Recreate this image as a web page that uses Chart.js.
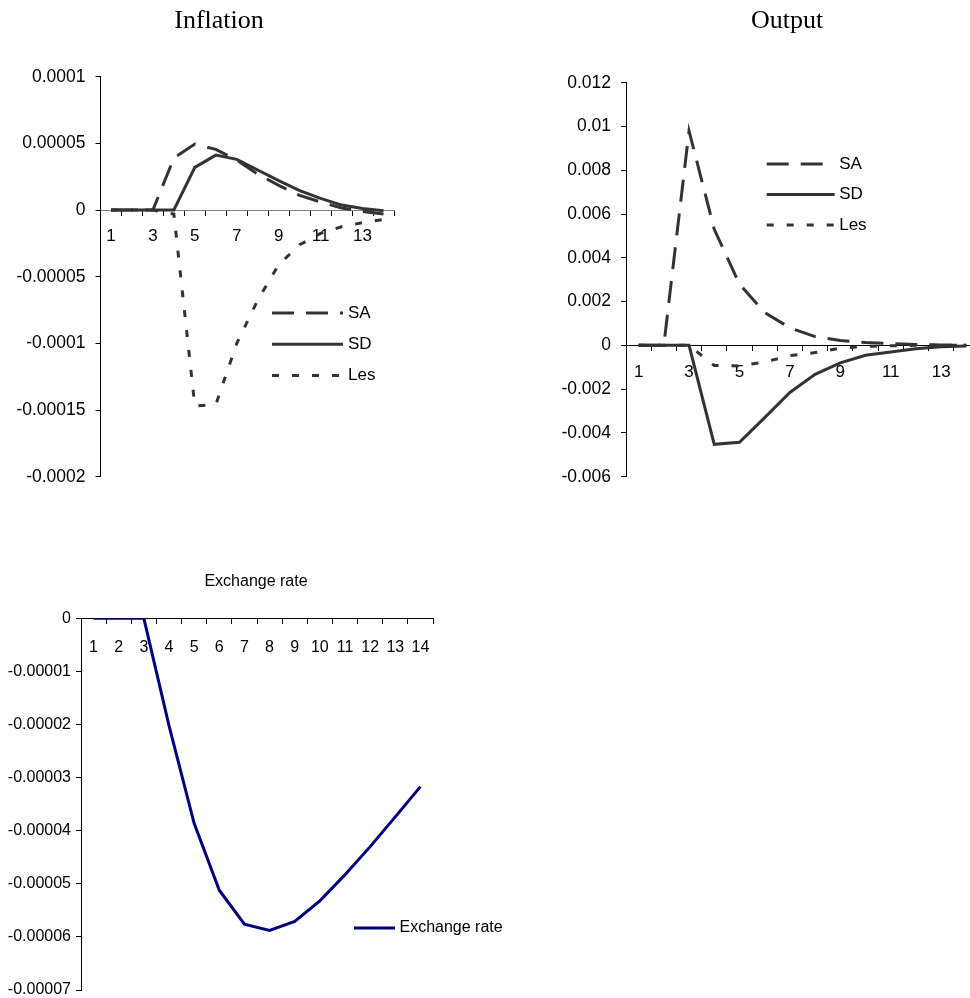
<!DOCTYPE html>
<html>
<head>
<meta charset="utf-8">
<script src="https://cdn.jsdelivr.net/npm/chart.js@4.4.1/dist/chart.umd.min.js"></script>
<style>
    html, body { margin: 0; padding: 0; background: #fff; }
    body { width: 970px; height: 998px; overflow: hidden; position: relative; }
    canvas { position: absolute; }
    #inflationChart { left: 0; top: 0; }
    #outputChart { left: 526px; top: 0; }
    #exchangeChart { left: 0; top: 550px; }
</style>
</head>
<body>
<canvas id="inflationChart" width="438" height="500"></canvas>
<canvas id="outputChart" width="522" height="500"></canvas>
<canvas id="exchangeChart" width="512" height="470"></canvas>
<script>
// Periods (x categories)
const periods = ['1', '2', '3', '4', '5', '6', '7', '8', '9', '10', '11', '12', '13', '14'];

// Inflation responses
const inflationSA = [0, 0, 0, 0.000039, 0.0000495, 0.0000455, 0.0000375, 0.000027, 0.0000185, 0.000011, 0.000006, 0.0000015, -0.000001, -0.000003];
const inflationSD = [0, 0, 0, 0, 0.000032, 0.0000412, 0.000038, 0.00003, 0.000022, 0.0000145, 0.0000087, 0.0000037, 0.0000012, -0.0000005];
const inflationLes = [0, 0, 0, -0.000003, -0.000147, -0.000146, -0.0001, -0.0000675, -0.000041, -0.000026, -0.0000175, -0.0000125, -0.0000095, -0.000007];

// Output responses
const outputSA = [0, 0, 0.0098, 0.0053, 0.0028, 0.0015, 0.0008, 0.0004, 0.00022, 0.00013, 0.00008, 0.00004, 0.00002, 0.00001];
const outputSD = [0, 0, 0, -0.00452, -0.00443, -0.0033, -0.00215, -0.00132, -0.0008, -0.00045, -0.0003, -0.00015, -0.00006, -0.00003];
const outputLes = [0, 0, 0, -0.00092, -0.00094, -0.00076, -0.00047, -0.00033, -0.00013, -0.00005, -0.00002, 0, 0, 0];

// Exchange rate response
const exchangeRate = [0, 0, 0, -0.0000202, -0.0000386, -0.0000512, -0.0000576, -0.0000588, -0.0000571, -0.0000532, -0.0000483, -0.000043, -0.0000374, -0.0000317];

// Y tick values and labels
const inflationTicks = [0.0001, 0.00005, 0, -0.00005, -0.0001, -0.00015, -0.0002];
const inflationTickLabels = ['0.0001', '0.00005', '0', '-0.00005', '-0.0001', '-0.00015', '-0.0002'];
const outputTicks = [0.012, 0.01, 0.008, 0.006, 0.004, 0.002, 0, -0.002, -0.004, -0.006];
const outputTickLabels = ['0.012', '0.01', '0.008', '0.006', '0.004', '0.002', '0', '-0.002', '-0.004', '-0.006'];
const exchangeTicks = [0, -0.00001, -0.00002, -0.00003, -0.00004, -0.00005, -0.00006, -0.00007];
const exchangeTickLabels = ['0', '-0.00001', '-0.00002', '-0.00003', '-0.00004', '-0.00005', '-0.00006', '-0.00007'];

const GREY = '#333333';

// Excel style legend: line sample then label, stacked rows
const lineLegend = {
    id: 'lineLegend',
    afterDraw(chart, args, opts) {
        const ctx = chart.ctx;
        ctx.save();
        chart.data.datasets.forEach((ds, i) => {
            const y = opts.y + i * opts.rowGap;
            ctx.beginPath();
            ctx.strokeStyle = ds.borderColor;
            ctx.lineWidth = ds.borderWidth;
            ctx.setLineDash(ds.borderDash || []);
            ctx.moveTo(opts.x, y);
            ctx.lineTo(opts.x + opts.len, y);
            ctx.stroke();
            ctx.setLineDash([]);
            ctx.fillStyle = '#000';
            ctx.font = opts.fontSize + 'px "Liberation Sans"';
            ctx.textBaseline = 'middle';
            ctx.textAlign = 'left';
            ctx.fillText(ds.label, opts.x + opts.len + opts.textGap, y);
        });
        ctx.restore();
    }
};

function series(label, data, dash, color) {
    return {
        label: label,
        data: data,
        borderColor: color || GREY,
        borderWidth: 3,
        borderDash: dash,
        borderCapStyle: 'butt',
        pointRadius: 0,
        tension: 0,
        fill: false
    };
}

function yAxis(values, labels, width, fontSize, padding) {
    return {
        type: 'linear',
        position: 'left',
        min: Math.min(...values),
        max: Math.max(...values),
        afterBuildTicks: s => { s.ticks = values.slice().sort((a, b) => a - b).map(v => ({ value: v })); },
        afterFit: s => { s.width = width; },
        grid: { drawOnChartArea: false, drawTicks: true, tickLength: 5, color: '#000' },
        border: { display: true, color: '#000', width: 1 },
        ticks: {
            color: '#000',
            padding: padding,
            font: { family: 'Liberation Sans', size: fontSize },
            callback: v => labels[values.indexOf(v)]
        }
    };
}

function xAxis(fontSize, padding, everyOther, borderColor) {
    return {
        type: 'category',
        position: { y: 0 },
        offset: true,
        grid: { drawOnChartArea: false, drawTicks: true, tickLength: 5, color: '#000', offset: true },
        border: { display: true, color: borderColor, width: 1 },
        ticks: {
            autoSkip: false,
            maxRotation: 0,
            color: '#000',
            padding: padding,
            font: { family: 'Liberation Sans', size: fontSize },
            callback: function(v, i) {
                if (everyOther && i % 2 === 1) return '';
                return this.getLabelForValue(v);
            }
        }
    };
}

// invisible right axis, only reserves room so the title centres like the original
function spacer(width) {
    return {
        type: 'linear',
        position: 'right',
        grid: { display: false },
        border: { display: false },
        ticks: { display: false },
        afterFit: s => { s.width = width; }
    };
}

function makeChart(id, cfg) {
    return new Chart(document.getElementById(id), {
        type: 'line',
        data: { labels: periods, datasets: cfg.datasets },
        options: {
            responsive: false,
            animation: false,
            layout: { padding: { left: 0, right: 0, top: 0, bottom: cfg.padBottom } },
            scales: { x: cfg.x, y: cfg.y, yR: spacer(cfg.spacer) },
            plugins: {
                legend: { display: false },
                tooltip: { enabled: false },
                title: {
                    display: true,
                    text: cfg.title,
                    color: '#000',
                    font: cfg.titleFont,
                    padding: cfg.titlePadding
                },
                lineLegend: cfg.legend
            }
        },
        plugins: [lineLegend]
    });
}

makeChart('inflationChart', {
    title: 'Inflation',
    titleFont: { family: 'Liberation Serif', size: 26, weight: 'normal' },
    titlePadding: { top: 5.4, bottom: 40.1 },
    padBottom: 23.3,
    spacer: 44,
    datasets: [
        series('SA', inflationSA, [22, 12]),
        series('SD', inflationSD, []),
        series('Les', inflationLes, [7, 13])
    ],
    x: xAxis(17, 11, true, '#808080'),
    y: yAxis(inflationTicks, inflationTickLabels, 100.5, 17.5, 10),
    legend: { x: 272, y: 313, len: 71, rowGap: 31.3, textGap: 5, fontSize: 17 }
});

makeChart('outputChart', {
    title: 'Output',
    titleFont: { family: 'Liberation Serif', size: 26, weight: 'normal' },
    titlePadding: { top: 5.4, bottom: 46.1 },
    padBottom: 23.3,
    spacer: 69,
    datasets: [
        series('SA', outputSA, [22, 12]),
        series('SD', outputSD, []),
        series('Les', outputLes, [7, 13])
    ],
    x: xAxis(17, 12, true, '#000'),
    y: yAxis(outputTicks, outputTickLabels, 100, 17.5, 10),
    legend: { x: 240.7, y: 164, len: 68, rowGap: 30.5, textGap: 4.5, fontSize: 17 }
});

makeChart('exchangeChart', {
    title: 'Exchange rate',
    titleFont: { family: 'Liberation Sans', size: 16, weight: 'normal' },
    titlePadding: { top: 22.4, bottom: 26.7 },
    padBottom: 30,
    spacer: 79,
    datasets: [
        series('Exchange rate', exchangeRate, [], '#000080')
    ],
    x: xAxis(16, 15, false, '#000'),
    y: yAxis(exchangeTicks, exchangeTickLabels, 81, 16, 5),
    legend: { x: 354, y: 378, len: 41, rowGap: 0, textGap: 4.5, fontSize: 16 }
});
</script>
</body>
</html>
